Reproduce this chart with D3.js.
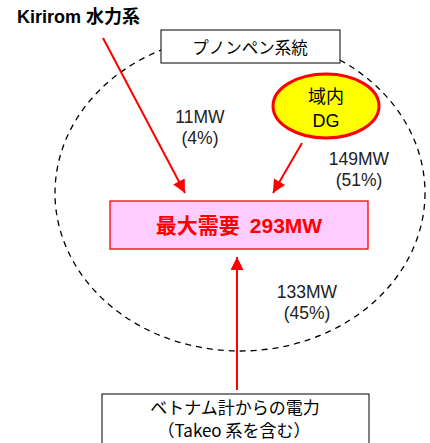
<!DOCTYPE html>
<html>
<head>
<meta charset="utf-8">
<script src="https://cdn.jsdelivr.net/npm/d3@7"></script>
<style>
  body { margin: 0; background: #fff; }
  text { font-family: "Liberation Sans", Arial, "Noto Sans CJK JP", sans-serif; }
  .jp { font-family: "Noto Sans CJK JP", sans-serif; }
</style>
</head>
<body>
<div id="vis"></div>
<script>
// data
const sources = ["Kirirom 水力系", "域内DG", "ベトナム計からの電力"];
const flowMW = [11, 149, 133];
const shares = [4, 51, 45];
const demandMW = 293;
const gridName = "プノンペン系統";
const demandLabel = "最大需要";
const vietnamNote = "（Takeo 系を含む）";

const width = 430;
const height = 443;
const red = "#ff0000";

const svg = d3.select("#vis")
        .append("svg")
        .attr("width", width)
        .attr("height", height);

// arrow head
svg.append("defs")
        .append("marker")
        .attr("id", "head")
        .attr("viewBox", "0 0 10 10")
        .attr("refX", 10)
        .attr("refY", 5)
        .attr("markerWidth", 7)
        .attr("markerHeight", 6.5)
        .attr("markerUnits", "strokeWidth")
        .attr("orient", "auto")
        .append("path")
        .attr("d", "M0,0 L10,5 L0,10 Z")
        .attr("fill", red);

// dashed grid ellipse
svg.append("ellipse")
        .attr("cx", 240)
        .attr("cy", 193)
        .attr("rx", 185)
        .attr("ry", 158)
        .attr("fill", "none")
        .attr("stroke", "black")
        .attr("stroke-width", 1.3)
        .attr("stroke-dasharray", "6,5");

// grid name box
svg.append("rect")
        .attr("x", 161).attr("y", 30)
        .attr("width", 179).attr("height", 33)
        .attr("fill", "white")
        .attr("stroke", "black")
        .attr("stroke-width", 1);
svg.append("text")
        .attr("class", "jp")
        .attr("x", 250).attr("y", 54)
        .attr("text-anchor", "middle")
        .attr("font-size", 16.5)
        .text(gridName);

// Kirirom title
svg.append("text")
        .attr("x", 17).attr("y", 23)
        .attr("font-size", 18)
        .attr("font-weight", "bold")
        .text(sources[0]);

// arrows
const arrows = [
  {x1: 103, y1: 38, x2: 185, y2: 193},
  {x1: 302, y1: 143, x2: 273, y2: 193},
  {x1: 237, y1: 390, x2: 237, y2: 257}
];
svg.selectAll("line.flow")
        .data(arrows)
        .enter()
        .append("line")
        .attr("class", "flow")
        .attr("x1", d => d.x1).attr("y1", d => d.y1)
        .attr("x2", d => d.x2).attr("y2", d => d.y2)
        .attr("stroke", red)
        .attr("stroke-width", 2)
        .attr("marker-end", "url(#head)");

// DG ellipse
svg.append("ellipse")
        .attr("cx", 326).attr("cy", 106)
        .attr("rx", 53).attr("ry", 32)
        .attr("fill", "#ffff00")
        .attr("stroke", red)
        .attr("stroke-width", 3);
svg.append("text")
        .attr("class", "jp")
        .attr("x", 326).attr("y", 103)
        .attr("text-anchor", "middle")
        .attr("font-size", 18)
        .text(sources[1].slice(0, 2));
svg.append("text")
        .attr("x", 326).attr("y", 127)
        .attr("text-anchor", "middle")
        .attr("font-size", 18)
        .text(sources[1].slice(2));

// flow labels
const labelPos = [{x: 200, y: 123}, {x: 359, y: 165}, {x: 307, y: 298}];
labelPos.forEach((p, i) => {
  svg.append("text")
          .attr("x", p.x).attr("y", p.y)
          .attr("text-anchor", "middle")
          .attr("font-size", 17.5)
          .attr("fill", "#222")
          .text(flowMW[i] + "MW");
  svg.append("text")
          .attr("x", p.x).attr("y", p.y + 21)
          .attr("text-anchor", "middle")
          .attr("font-size", 17.5)
          .attr("fill", "#222")
          .text("(" + shares[i] + "%)");
});

// demand box
svg.append("rect")
        .attr("x", 110).attr("y", 201)
        .attr("width", 258).attr("height", 48)
        .attr("fill", "#ffccff")
        .attr("stroke", red)
        .attr("stroke-width", 1.3);
const dt = svg.append("text")
        .attr("x", 239).attr("y", 233)
        .attr("text-anchor", "middle")
        .attr("font-size", 21)
        .attr("font-weight", "bold")
        .attr("fill", red);
dt.append("tspan")
        .attr("class", "jp")
        .text(demandLabel);
dt.append("tspan")
        .attr("dx", 10)
        .text(demandMW + "MW");

// Vietnam box
svg.append("rect")
        .attr("x", 102).attr("y", 394)
        .attr("width", 267).attr("height", 60)
        .attr("fill", "white")
        .attr("stroke", "black")
        .attr("stroke-width", 1);
svg.append("text")
        .attr("class", "jp")
        .attr("x", 235).attr("y", 414)
        .attr("text-anchor", "middle")
        .attr("font-size", 17)
        .text(sources[2]);
svg.append("text")
        .attr("class", "jp")
        .attr("x", 234).attr("y", 437)
        .attr("text-anchor", "middle")
        .attr("font-size", 17)
        .text(vietnamNote);
</script>
</body>
</html>
